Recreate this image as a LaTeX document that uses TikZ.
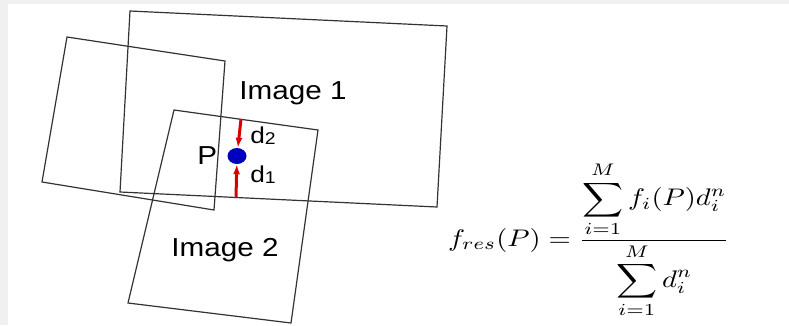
\documentclass[tikz,border=0pt]{standalone}
\usepackage{fontspec}
\setmainfont{Liberation Sans}
\usepackage{tikz}
\usetikzlibrary{arrows.meta,positioning,shapes.geometric}

\tikzset{
  frame/.style={draw=black!80,line width=1.2pt},
  lbl/.style={font=\fontsize{26}{30}\selectfont,inner sep=0pt},
  dlbl/.style={font=\fontsize{23}{26}\selectfont,inner sep=0pt},
  dist/.style={draw=red!85!black,line width=3pt,-{Latex[length=10pt,width=7pt]}},
}
\newcommand{\wide}[1]{\scalebox{1.14}[1]{#1}}
\newcommand{\subdig}[1]{\raisebox{-1pt}{\fontsize{17}{18}\selectfont #1}}

\begin{document}
\begin{tikzpicture}[x=1pt,y=-1pt]
  % page with light grey border
  \fill[gray!12] (0,0) rectangle (789,325);
  \fill[white] (8,4) rectangle (789,325);
  \useasboundingbox (0,0) rectangle (789,325);
  \clip (0,0) rectangle (789,325);
  % the three image frames
  \draw[frame] (67,37) -- (225,61) -- (214,210) -- (42,182) -- cycle;
  \draw[frame] (130,11) -- (447,26) -- (437,207) -- (120,192) -- cycle;
  \draw[frame] (174,110) -- (318,130) -- (291,323) -- (128,303) -- cycle;
  % labels
  \node[lbl] (img1) at (293,93) {\wide{Image 1}};
  \node[lbl] (img2) at (225,250) {\wide{Image 2}};
  % point and distances to the edges
  \node[ellipse,fill=blue!75!black,minimum width=19pt,minimum height=16pt,inner sep=0pt] (pt) at (237,156) {};
  \node[lbl,left=10pt of pt] (plbl) {\wide{P}};
  \coordinate (e2) at (241,119);
  \coordinate (e1) at (236,198);
  \draw[dist] (e2) -- (pt);
  \draw[dist] (e1) -- (pt);
  \node[dlbl] (d2) at (263,136) {\wide{d\subdig{2}}};
  \node[dlbl] (d1) at (263,175) {\wide{d\subdig{1}}};
  % blending formula
  \node[anchor=west,inner sep=0pt] (eq) at (448,240)
    {\scalebox{2.85}[2.4]{$\displaystyle f_{res}(P)=\frac{\displaystyle\sum_{i=1}^{M} f_i(P)d_i^n}{\displaystyle\sum_{i=1}^{M} d_i^n}$}};
\end{tikzpicture}
\end{document}
